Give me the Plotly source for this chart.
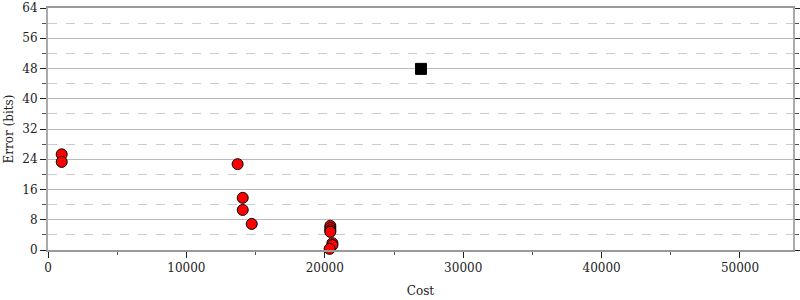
import plotly.graph_objects as go

# Data
red_cost = [990, 990, 13700, 14070, 14070, 14720, 20400, 20400, 20400, 20400, 20550, 20550, 20350]
red_error = [25.3, 23.3, 22.7, 13.8, 10.6, 6.9, 6.4, 5.8, 5.2, 4.8, 1.8, 1.3, 0.3]
black_cost = [26950]
black_error = [47.9]

x_ticks = [0, 10000, 20000, 30000, 40000, 50000]
y_ticks = [0, 8, 16, 24, 32, 40, 48, 56, 64]

font = "DejaVu Serif"

fig = go.Figure()
fig.add_trace(go.Scatter(
    x=red_cost, y=red_error, mode="markers",
    marker=dict(symbol="circle", size=11, color="#ff0000",
                line=dict(color="#000000", width=1)),
    showlegend=False, cliponaxis=False,
))
fig.add_trace(go.Scatter(
    x=black_cost, y=black_error, mode="markers",
    marker=dict(symbol="square", size=11, color="#000000",
                line=dict(color="#000000", width=1)),
    showlegend=False, cliponaxis=False,
))

fig.update_layout(
    width=800, height=300,
    margin=dict(l=48, r=7, t=8, b=50),
    paper_bgcolor="white", plot_bgcolor="white",
    font=dict(family=font, size=12, color="#222222"),
    xaxis=dict(
        range=[0, 53830], tickvals=x_ticks, ticktext=[str(v) for v in x_ticks],
        showgrid=False, zeroline=False, automargin=False,
        showline=True, linecolor="#999999", linewidth=2, mirror=True,
        ticks="outside", ticklen=6, tickcolor="#222222", tickwidth=1,
        minor=dict(tickvals=[5000, 15000, 25000, 35000, 45000], ticks="outside",
                   ticklen=3, tickcolor="#555555", showgrid=False),
        title=dict(text="Cost", font=dict(family=font, size=12), standoff=12),
        tickfont=dict(family=font, size=12),
    ),
    yaxis=dict(
        range=[0, 64], tickvals=y_ticks, ticktext=[str(v) for v in y_ticks],
        showgrid=True, gridcolor="#bbbbbb", gridwidth=1, zeroline=False, automargin=False,
        showline=True, linecolor="#aaaaaa", linewidth=2, mirror="allticks",
        ticks="outside", ticklen=6, tickcolor="#222222", tickwidth=1,
        minor=dict(dtick=4, tick0=0, ticks="outside", ticklen=4, tickcolor="#555555",
                   showgrid=True, gridcolor="#cccccc", griddash="dash", gridwidth=1),
        title=dict(text="Error (bits)", font=dict(family=font, size=12), standoff=6),
        tickfont=dict(family=font, size=12),
    ),
)

fig.write_html("out.html")
